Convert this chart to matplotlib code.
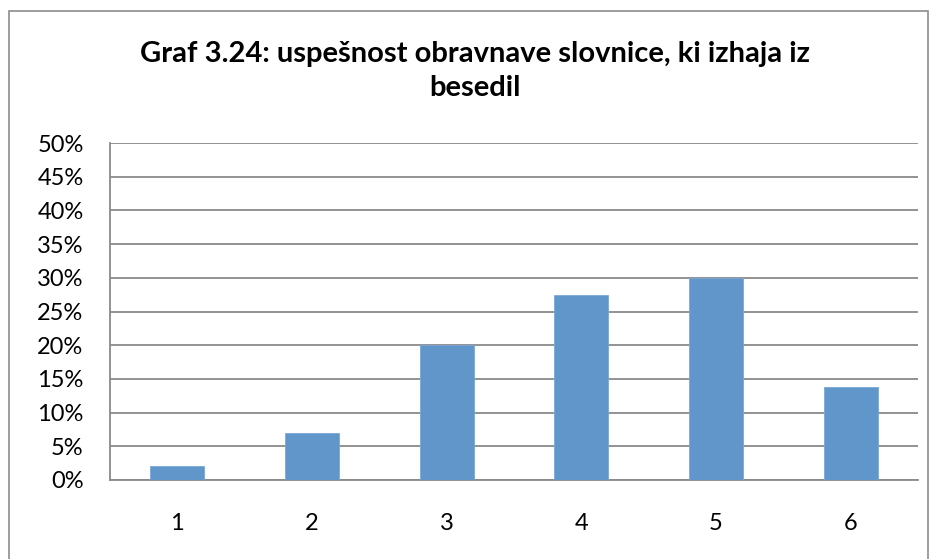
import matplotlib
matplotlib.use("Agg")
import matplotlib.pyplot as plt
from matplotlib.patches import Rectangle
from matplotlib.ticker import MultipleLocator, FuncFormatter

# data
categories = ["1", "2", "3", "4", "5", "6"]
shares = [2.1, 6.9, 20.0, 27.5, 29.9, 13.8]   # percent
title = "Graf 3.24: uspešnost obravnave slovnice, ki izhaja iz\nbesedil"

plt.rcParams["font.family"] = ["Lato", "DejaVu Sans"]

W, H = 936, 559
fig = plt.figure(figsize=(W / 100, H / 100), dpi=100)

# outer chart border (Excel style)
fig.patches.append(Rectangle((9 / W, -0.05), 919 / W, 1 - 11 / H + 0.05,
                             transform=fig.transFigure, fill=False,
                             edgecolor="#8c8c8c", linewidth=1.2))

ax = fig.add_axes([110 / W, 1 - 480 / H, 808 / W, 337 / H])
x = list(range(len(categories)))
ax.bar(x, shares, width=0.4, color="#6096ca", edgecolor="#7aa8d6",
       linewidth=0.6, zorder=3)

ax.set_xlim(-0.5, len(categories) - 0.5)
ax.set_ylim(0, 50)
ax.yaxis.set_major_locator(MultipleLocator(5))
ax.yaxis.set_major_formatter(FuncFormatter(lambda v, _: f"{v:.0f}%"))
ax.set_xticks(x)
ax.set_xticklabels(categories)
ax.tick_params(length=0, labelsize=17, colors="black")
ax.tick_params(axis="y", pad=19)
ax.tick_params(axis="x", pad=24)

ax.grid(axis="y", color="#8a8a8a", linewidth=1.3, zorder=0)
for s in ("top", "right"):
    ax.spines[s].set_visible(False)
for s in ("left", "bottom"):
    ax.spines[s].set_color("#8a8a8a")
    ax.spines[s].set_linewidth(1.3)

fig.text(475 / W, 1 - 71 / H, title, ha="center", va="center",
         fontsize=21, fontweight="bold", linespacing=1.4)

fig.savefig("out.png", dpi=100)
